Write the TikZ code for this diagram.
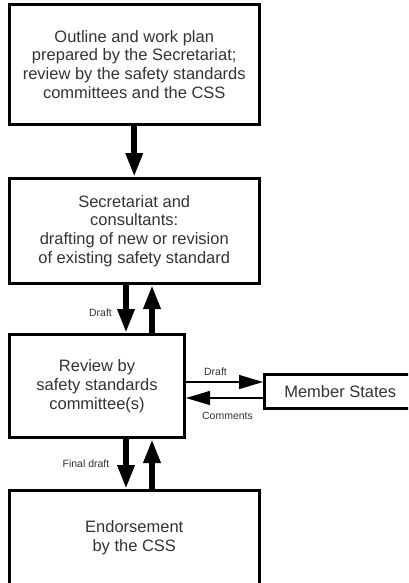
\documentclass[tikz,border=0pt]{standalone}
\usepackage{fontspec}
\setmainfont{Liberation Sans}
\usetikzlibrary{arrows.meta}

\begin{document}
\begin{tikzpicture}[x=1pt,y=-1pt,
    stagebox/.style={draw,line width=3pt,align=center,inner sep=0pt,text=black!80,
        font=\fontsize{16.5}{18.8}\selectfont},
    bigarrow/.style={line width=6pt,-{Triangle[length=24pt,width=16pt]}},
    thinarrow/.style={line width=1.3pt,-{Triangle[length=24pt,width=14pt]}},
    lbl/.style={text=black!80,font=\fontsize{10.5}{12}\selectfont,inner sep=0pt}]
    \useasboundingbox (0,0) rectangle (408,583);
    \clip (0,0) rectangle (408,583);
    % the stages
    \node[stagebox,minimum width=249.5,minimum height=120] (outline) at (134.25,64.5)
        {Outline and work plan\\prepared by the Secretariat;\\review by the safety standards\\committees and the CSS};
    \node[stagebox,minimum width=249.5,minimum height=105] (drafting) at (134.25,231)
        {Secretariat and\\consultants:\\drafting of new or revision\\of existing safety standard};
    \node[stagebox,minimum width=175,minimum height=103] (review) at (97,386)
        {Review by\\safety standards\\committee(s)};
    \node[stagebox,minimum width=249.5,minimum height=94.5] (endorse) at (134.25,537.75)
        {Endorsement\\by the CSS};
    \node[stagebox,minimum width=151.5,minimum height=34] (members) at (340.25,391.5)
        {Member States};
    % thick arrows
    \draw[bigarrow] (outline) -- (drafting);
    \draw[bigarrow] ([xshift=-8.25pt]drafting.south) -- ([xshift=-8.25pt]drafting.south |- review.north);
    \draw[bigarrow] ([xshift=17.75pt]drafting.south |- review.north) -- ([xshift=17.75pt]drafting.south);
    \draw[bigarrow] ([xshift=-8.25pt]endorse.north |- review.south) -- ([xshift=-8.25pt]endorse.north);
    \draw[bigarrow] ([xshift=17.75pt]endorse.north) -- ([xshift=17.75pt]endorse.north |- review.south);
    % thin arrows to and from the Member States
    \coordinate (out) at ([yshift=9.5pt]members.west);
    \coordinate (in) at ([yshift=-6.5pt]members.west);
    \draw[thinarrow] (out -| review.east) -- (out);
    \draw[thinarrow] (in) -- (in -| review.east);
    % labels
    \node[lbl] (draft1) at (100.5,313) {Draft};
    \node[lbl] (draft2) at (215.5,372) {Draft};
    \node[lbl] (comments) at (227.5,416) {Comments};
    \node[lbl] (final) at (86,464) {Final draft};
\end{tikzpicture}
\end{document}
